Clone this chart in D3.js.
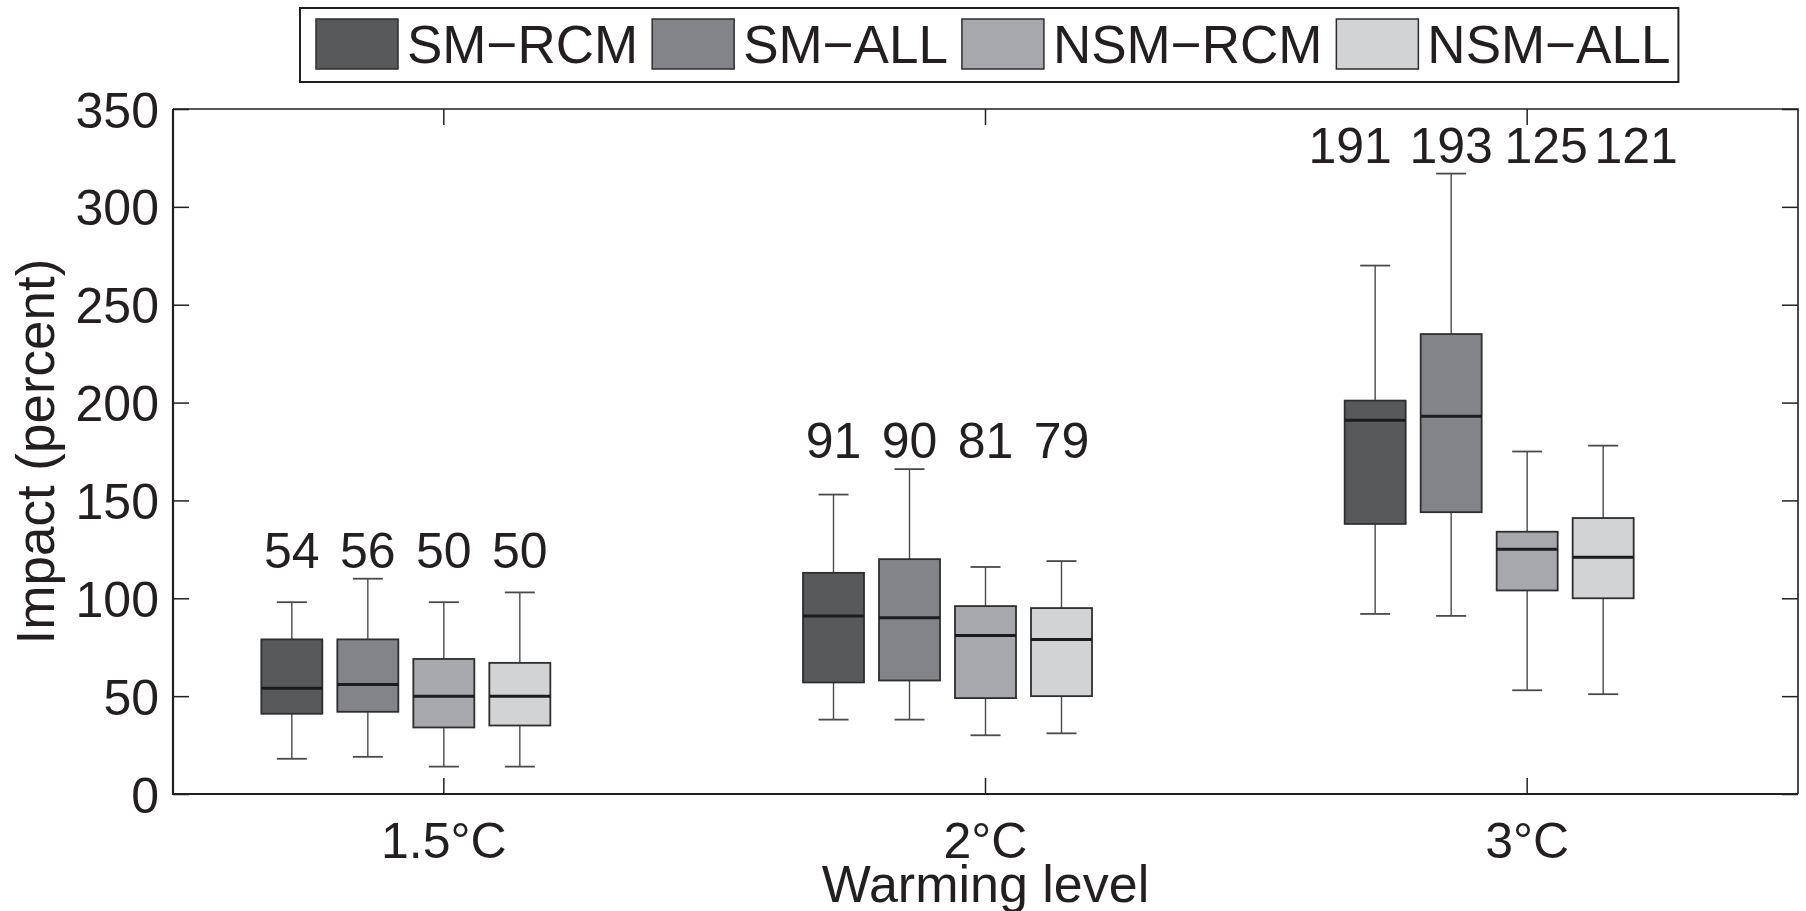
<!DOCTYPE html>
<html>
<head>
    <meta charset="utf-8">
    <style>
        html, body { padding: 0; margin: 0; background: #fff; }
        svg { display: block; }
    </style>
</head>
<body>
    <div id="chart"></div>
    <script src="https://cdn.jsdelivr.net/npm/d3@7"></script>
    <script>
        // Data
        const levels = ['1.5°C', '2°C', '3°C'];
        const series = ['SM\u2212RCM', 'SM\u2212ALL', 'NSM\u2212RCM', 'NSM\u2212ALL'];
        const colors = ['#58595b', '#838488', '#a7a8ab', '#d2d3d5'];
        const yTicks = [0, 50, 100, 150, 200, 250, 300, 350];

        // one row per warming level, one value per series
        const whiskerLow = [[18, 19, 14, 14], [38, 38, 30, 31], [92, 91, 53, 51]];
        const q1 = [[41, 42, 34, 35], [57, 58, 49, 50], [138, 144, 104, 100]];
        const median = [[54, 56, 50, 50], [91, 90, 81, 79], [191, 193, 125, 121]];
        const q3 = [[79, 79, 69, 67], [113, 120, 96, 95], [201, 235, 134, 141]];
        const whiskerHigh = [[98, 110, 98, 103], [153, 166, 116, 119], [270, 317, 175, 178]];
        const medianLabels = [['54', '56', '50', '50'], ['91', '90', '81', '79'], ['191', '193', '125', '121']];

        const width = 1806, height = 911;
        const margin = { left: 173, right: 8, top: 109, bottom: 117 };
        const font = "'Liberation Sans', Arial, sans-serif";

        const svg = d3.select('#chart').append('svg')
            .attr('width', width)
            .attr('height', height);

        const x = d3.scaleBand()
            .domain(levels)
            .range([margin.left, width - margin.right])
            .padding(0);
        const y = d3.scaleLinear()
            .domain([0, 350])
            .range([height - margin.bottom, margin.top]);

        const step = 76, boxW = 61, capW = 30;
        // manual nudges of the crowded 3°C labels
        const labelNudge = [[0, 0, 0, 0], [0, 0, 0, 0], [-25, 0, 19, 33]];

        const boxes = [];
        levels.forEach((lv, g) => {
            series.forEach((s, i) => {
                boxes.push({
                    g, i,
                    cx: x(lv) + x.bandwidth() / 2 + (i - 2) * step,
                    lo: whiskerLow[g][i], q1: q1[g][i], med: median[g][i],
                    q3: q3[g][i], hi: whiskerHigh[g][i]
                });
            });
        });

        // Whiskers
        const wg = svg.append('g')
            .attr('stroke', '#4a4a4a')
            .attr('stroke-width', 1.4);
        wg.selectAll('line.up').data(boxes).join('line')
            .attr('x1', d => d.cx).attr('x2', d => d.cx)
            .attr('y1', d => y(d.q3)).attr('y2', d => y(d.hi));
        wg.selectAll('line.dn').data(boxes).join('line')
            .attr('x1', d => d.cx).attr('x2', d => d.cx)
            .attr('y1', d => y(d.q1)).attr('y2', d => y(d.lo));
        wg.selectAll('line.capHi').data(boxes).join('line')
            .attr('x1', d => d.cx - capW / 2).attr('x2', d => d.cx + capW / 2)
            .attr('y1', d => y(d.hi)).attr('y2', d => y(d.hi))
            .attr('stroke-width', 1.8);
        wg.selectAll('line.capLo').data(boxes).join('line')
            .attr('x1', d => d.cx - capW / 2).attr('x2', d => d.cx + capW / 2)
            .attr('y1', d => y(d.lo)).attr('y2', d => y(d.lo))
            .attr('stroke-width', 1.8);

        // Boxes
        svg.append('g').selectAll('rect').data(boxes).join('rect')
            .attr('x', d => d.cx - boxW / 2)
            .attr('y', d => y(d.q3))
            .attr('width', boxW)
            .attr('height', d => y(d.q1) - y(d.q3))
            .attr('fill', d => colors[d.i])
            .attr('stroke', '#2e2e30')
            .attr('stroke-width', 1.8);

        // Medians
        svg.append('g').selectAll('line').data(boxes).join('line')
            .attr('x1', d => d.cx - boxW / 2).attr('x2', d => d.cx + boxW / 2)
            .attr('y1', d => y(d.med)).attr('y2', d => y(d.med))
            .attr('stroke', '#1c1c1e')
            .attr('stroke-width', 3);

        // Median labels above each group
        svg.append('g').selectAll('text').data(boxes).join('text')
            .attr('x', d => d.cx + labelNudge[d.g][d.i])
            .attr('y', d => y(d3.max(whiskerHigh[d.g])) - 11)
            .attr('text-anchor', 'middle')
            .style('font-family', font)
            .style('font-size', '50px')
            .attr('fill', '#231f20')
            .text(d => medianLabels[d.g][d.i]);

        // Axes frame
        const x0 = margin.left, x1 = width - margin.right;
        const y0 = height - margin.bottom, y1 = margin.top;
        const tickLen = 16;

        const yAxis = d3.axisLeft(y).tickValues(yTicks).tickSize(-tickLen).tickPadding(14);
        svg.append('g')
            .attr('transform', `translate(${x0},0)`)
            .call(yAxis)
            .call(g => g.select('.domain').remove())
            .call(g => g.selectAll('line').attr('stroke', '#231f20').attr('stroke-width', 1.5))
            .call(g => g.selectAll('text')
                .style('font-family', font).style('font-size', '50px').attr('fill', '#231f20')
                .attr('dy', '0.36em'));

        svg.append('g')
            .attr('transform', `translate(${x1},0)`)
            .call(d3.axisRight(y).tickValues(yTicks).tickSize(-tickLen).tickFormat(''))
            .call(g => g.select('.domain').remove())
            .call(g => g.selectAll('line').attr('stroke', '#231f20').attr('stroke-width', 1.5));

        svg.append('g')
            .attr('transform', `translate(0,${y0})`)
            .call(d3.axisBottom(x).tickSize(-tickLen).tickPadding(28))
            .call(g => g.select('.domain').remove())
            .call(g => g.selectAll('line').attr('stroke', '#231f20').attr('stroke-width', 1.5))
            .call(g => g.selectAll('text')
                .style('font-family', font).style('font-size', '50px').attr('fill', '#231f20'));

        svg.append('g')
            .attr('transform', `translate(0,${y1})`)
            .call(d3.axisTop(x).tickSize(-tickLen).tickFormat(''))
            .call(g => g.select('.domain').remove())
            .call(g => g.selectAll('line').attr('stroke', '#231f20').attr('stroke-width', 1.5));

        // frame lines
        svg.append('path')
            .attr('d', `M${x0},${y1}L${x1},${y1}L${x1},${y0}`)
            .attr('fill', 'none').attr('stroke', '#231f20').attr('stroke-width', 1.6);
        svg.append('path')
            .attr('d', `M${x0},${y1}L${x0},${y0}L${x1},${y0}`)
            .attr('fill', 'none').attr('stroke', '#231f20').attr('stroke-width', 2.2);

        // Axis titles
        svg.append('text')
            .attr('x', (x0 + x1) / 2)
            .attr('y', 902)
            .attr('text-anchor', 'middle')
            .style('font-family', font).style('font-size', '52px').attr('fill', '#231f20')
            .text('Warming level');
        svg.append('text')
            .attr('transform', `translate(54,${(y0 + y1) / 2}) rotate(-90)`)
            .attr('text-anchor', 'middle')
            .style('font-family', font).style('font-size', '53px').attr('fill', '#231f20')
            .text('Impact (percent)');

        // Legend
        const legend = svg.append('g');
        const legX = 300, legY = 8, swW = 82, swH = 50;
        let cursor = legX + 16;
        series.forEach((s, i) => {
            const it = legend.append('g');
            it.append('rect')
                .attr('x', cursor).attr('y', legY + 11)
                .attr('width', swW).attr('height', swH)
                .attr('fill', colors[i]).attr('stroke', '#2e2e30').attr('stroke-width', 1.5);
            const t = it.append('text')
                .attr('x', cursor + swW + 9).attr('y', legY + 55)
                .style('font-family', font).style('font-size', '53px').attr('fill', '#231f20')
                .text(s);
            cursor += swW + 9 + t.node().getComputedTextLength() + 14;
        });
        legend.insert('rect', ':first-child')
            .attr('x', legX).attr('y', legY)
            .attr('width', cursor - legX - 6).attr('height', 74)
            .attr('fill', '#fff').attr('stroke', '#231f20').attr('stroke-width', 2);
    </script>
</body>
</html>
